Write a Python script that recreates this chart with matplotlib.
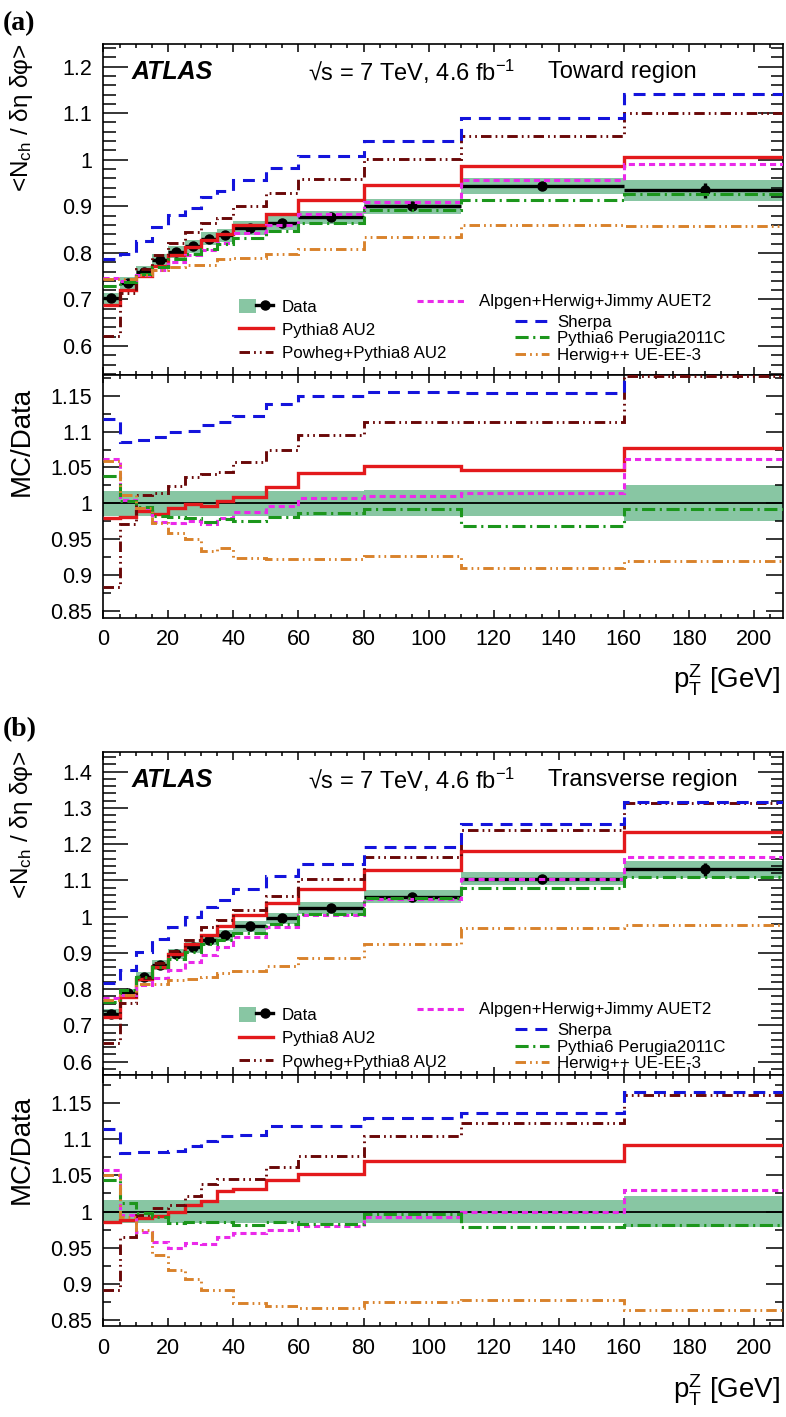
import numpy as np
import matplotlib
matplotlib.use("Agg")
import matplotlib.pyplot as plt
from matplotlib.lines import Line2D
from matplotlib.patches import Patch
from matplotlib.legend_handler import HandlerTuple
from matplotlib.ticker import MultipleLocator, FuncFormatter

plt.rcParams['font.family'] = ['Liberation Sans', 'DejaVu Sans']
plt.rcParams['mathtext.fontset'] = 'custom'
plt.rcParams['mathtext.rm'] = 'Liberation Sans'
plt.rcParams['mathtext.it'] = 'Liberation Sans:italic'
plt.rcParams['mathtext.bf'] = 'Liberation Sans:bold'

# ---------------- data ----------------
bin_edges = [0, 5, 10, 15, 20, 25, 30, 35, 40, 50, 60, 80, 110, 160, 210]
x_ticks = [0, 20, 40, 60, 80, 100, 120, 140, 160, 180, 200]

mc_names = ['Pythia8 AU2', 'Powheg+Pythia8 AU2', 'Alpgen+Herwig+Jimmy AUET2',
            'Sherpa', 'Pythia6 Perugia2011C', 'Herwig++ UE-EE-3']

# Toward region
data_toward = [0.703, 0.735, 0.758, 0.784, 0.802, 0.814, 0.830, 0.838,
               0.853, 0.864, 0.876, 0.900, 0.944, 0.934]
stat_toward = [0.004, 0.003, 0.003, 0.003, 0.003, 0.003, 0.003, 0.003,
               0.003, 0.003, 0.003, 0.004, 0.006, 0.017]
syst_toward = [0.017, 0.017, 0.017, 0.017, 0.017, 0.017, 0.017, 0.017,
               0.017, 0.017, 0.017, 0.018, 0.018, 0.025]
ratio_toward_pythia8 = [0.980, 0.981, 0.989, 0.985, 0.993, 0.999, 0.996, 1.003,
                        1.009, 1.023, 1.043, 1.052, 1.046, 1.077]
ratio_toward_powheg = [0.884, 0.971, 1.011, 1.014, 1.024, 1.037, 1.041, 1.044,
                       1.057, 1.074, 1.095, 1.113, 1.114, 1.177]
ratio_toward_alpgen = [1.062, 1.005, 0.994, 0.974, 0.973, 0.976, 0.971, 0.980,
                       0.988, 0.996, 1.008, 1.010, 1.014, 1.062]
ratio_toward_sherpa = [1.118, 1.085, 1.089, 1.092, 1.099, 1.101, 1.109, 1.114,
                       1.122, 1.138, 1.150, 1.155, 1.154, 1.221]
ratio_toward_pythia6 = [1.038, 1.004, 0.995, 0.983, 0.981, 0.980, 0.974, 0.978,
                        0.976, 0.981, 0.986, 0.992, 0.968, 0.992]
ratio_toward_herwig = [1.059, 1.011, 0.994, 0.973, 0.959, 0.951, 0.933, 0.938,
                       0.924, 0.923, 0.923, 0.927, 0.910, 0.919]

# Transverse region
data_trans = [0.732, 0.788, 0.834, 0.867, 0.897, 0.915, 0.936, 0.948,
              0.973, 0.995, 1.024, 1.055, 1.104, 1.130]
stat_trans = [0.004, 0.003, 0.003, 0.003, 0.003, 0.003, 0.003, 0.003,
              0.003, 0.003, 0.003, 0.004, 0.006, 0.017]
syst_trans = [0.016, 0.016, 0.016, 0.016, 0.016, 0.016, 0.016, 0.016,
              0.016, 0.016, 0.016, 0.016, 0.016, 0.021]
ratio_trans_pythia8 = [0.986, 0.988, 0.991, 0.994, 1.000, 1.009, 1.014, 1.028,
                       1.031, 1.043, 1.052, 1.070, 1.070, 1.092]
ratio_trans_powheg = [0.891, 0.965, 0.995, 1.005, 1.009, 1.022, 1.038, 1.045,
                      1.045, 1.062, 1.077, 1.104, 1.123, 1.161]
ratio_trans_alpgen = [1.058, 0.995, 0.971, 0.958, 0.950, 0.956, 0.955, 0.965,
                      0.970, 0.975, 0.980, 0.993, 1.000, 1.030]
ratio_trans_sherpa = [1.114, 1.081, 1.082, 1.082, 1.084, 1.090, 1.097, 1.104,
                      1.106, 1.118, 1.118, 1.130, 1.137, 1.165]
ratio_trans_pythia6 = [1.044, 1.012, 0.998, 0.993, 0.984, 0.985, 0.986, 0.986,
                       0.982, 0.985, 0.983, 0.997, 0.978, 0.982]
ratio_trans_herwig = [1.051, 0.993, 0.975, 0.940, 0.919, 0.906, 0.891, 0.891,
                      0.873, 0.869, 0.866, 0.875, 0.878, 0.864]

# ---------------- styles ----------------
mc_colors = ['#e3191c', '#6a0808', '#ea2aea', '#1414dc', '#1c961c', '#d9822b']
mc_styles = ['-', (0, (3.6, 1.4, 0.6, 1.4, 0.6, 1.4)), (0, (2.0, 1.3)),
             (0, (3.9, 2.6)), (0, (4.3, 1.5, 0.7, 1.5)),
             (0, (3.6, 1.4, 0.6, 1.4, 0.6, 1.4))]
mc_widths = [2.4, 2.1, 2.2, 2.2, 2.2, 2.1]
band_color = '#88c6a3'

fig = plt.figure(figsize=(7.86, 14.17), dpi=100)

fmt = FuncFormatter(lambda v, p: '%g' % round(v, 3))


def style_axis(ax, ymaj, ymin, ylen_major, ylen_minor):
    ax.set_xlim(0, 209)
    ax.xaxis.set_major_locator(MultipleLocator(20))
    ax.xaxis.set_minor_locator(MultipleLocator(5))
    ax.yaxis.set_major_locator(MultipleLocator(ymaj))
    ax.yaxis.set_minor_locator(MultipleLocator(ymin))
    ax.yaxis.set_major_formatter(fmt)
    ax.tick_params(which='both', direction='in', top=True, right=True,
                   labelsize=15.5, width=1.1)
    ax.tick_params(axis='x', which='major', length=6, pad=8)
    ax.tick_params(axis='x', which='minor', length=3)
    ax.tick_params(axis='y', which='major', length=ylen_major, pad=8)
    ax.tick_params(axis='y', which='minor', length=ylen_minor)
    for s in ax.spines.values():
        s.set_linewidth(1.2)


def draw_panel(rect_main, rect_ratio, data, stat, syst, ratios, ylim_main,
               ylim_ratio, region, plabel, plabel_y, ylab_y, rlab_y,
               xlab_y, txt_y, leg_pos):
    edges = np.array(bin_edges, dtype=float)
    centers = 0.5 * (edges[1:] + edges[:-1])
    halfw = 0.5 * (edges[1:] - edges[:-1])
    data = np.array(data)
    syst = np.array(syst)

    ax = fig.add_axes(rect_main)
    axr = fig.add_axes(rect_ratio, sharex=ax)

    # main panel
    ax.bar(centers, 2 * syst * data, bottom=data * (1 - syst), width=2 * halfw,
           color=band_color, linewidth=0, zorder=1)
    ax.errorbar(centers, data, xerr=halfw, yerr=stat, fmt='o', color='k',
                ms=6.5, lw=2.4, capsize=0, zorder=2)
    handles = []
    for r, c, ls, lw in zip(ratios, mc_colors, mc_styles, mc_widths):
        vals = np.array(r) * data
        ax.stairs(vals, edges, baseline=None, color=c, linestyle=ls,
                  linewidth=lw, zorder=3)
        handles.append(Line2D([], [], color=c, linestyle=ls, linewidth=lw))
    ax.set_ylim(*ylim_main)
    style_axis(ax, 0.1, 0.02, 18, 9)
    ax.tick_params(axis='x', labelbottom=False)

    # ratio panel
    axr.bar(centers, 2 * syst, bottom=1 - syst, width=2 * halfw,
            color=band_color, linewidth=0, zorder=1)
    axr.axhline(1.0, color='k', lw=1.3, zorder=2)
    for r, c, ls, lw in zip(ratios, mc_colors, mc_styles, mc_widths):
        axr.stairs(r, edges, baseline=None, color=c, linestyle=ls,
                   linewidth=lw, zorder=3)
    axr.set_ylim(*ylim_ratio)
    style_axis(axr, 0.05, 0.025, 12, 6)
    axr.set_xticks(x_ticks)

    # texts
    ax.text(0.042, txt_y, 'ATLAS', transform=ax.transAxes, fontsize=18,
            fontweight='bold', fontstyle='italic', va='center', ha='left')
    ax.text(0.3015, txt_y, '\u221As = 7 TeV, 4.6 fb$^{-1}$',
            transform=ax.transAxes, fontsize=17, va='center', ha='left')
    ax.text(0.654, txt_y, region, transform=ax.transAxes, fontsize=17,
            va='center', ha='left')
    ax.text(-0.12, ylab_y, '<N$_{\\mathrm{ch}}$ / \u03b4\u03b7 \u03b4\u03c6>',
            transform=ax.transAxes, rotation=90, fontsize=17.5, ha='center',
            va='top')
    axr.text(-0.12, rlab_y, 'MC/Data', transform=axr.transAxes, rotation=90,
             fontsize=20, ha='center', va='top')
    axr.text(0.995, xlab_y, 'p$_{\\mathrm{T}}^{\\mathrm{Z}}$ [GeV]',
             transform=axr.transAxes, fontsize=20, ha='right', va='center')
    fig.text(0.004, plabel_y, plabel, fontfamily='Liberation Serif',
             fontweight='bold', fontsize=20, ha='left', va='center')

    # legends
    data_handle = (Patch(facecolor=band_color, edgecolor='none'),
                   Line2D([], [], color='k', lw=2.4, marker='o', ms=6.5))
    (l1x, l1y), (l2x, l2y), (l3x, l3y) = leg_pos
    leg1 = ax.legend([data_handle, handles[0], handles[1]],
                     ['Data', mc_names[0], mc_names[1]],
                     handler_map={tuple: HandlerTuple(ndivide=None, pad=0)},
                     loc='center left', bbox_to_anchor=(l1x, l1y),
                     frameon=False, fontsize=12.2, handlelength=2.0,
                     handleheight=0.95, handletextpad=0.5, labelspacing=0.42,
                     borderpad=0, borderaxespad=0)
    ax.add_artist(leg1)
    leg2 = ax.legend([handles[2]], [mc_names[2]], loc='center left',
                     bbox_to_anchor=(l2x, l2y), frameon=False, fontsize=12.2,
                     handlelength=2.8, handletextpad=0.85, borderpad=0,
                     borderaxespad=0)
    ax.add_artist(leg2)
    ax.legend(handles[3:], mc_names[3:], loc='center left',
              bbox_to_anchor=(l3x, l3y), frameon=False, fontsize=12.2,
              handlelength=2.0, handletextpad=0.5, labelspacing=0.08,
              borderpad=0, borderaxespad=0)


ratios_toward = [ratio_toward_pythia8, ratio_toward_powheg, ratio_toward_alpgen,
                 ratio_toward_sherpa, ratio_toward_pythia6, ratio_toward_herwig]
ratios_trans = [ratio_trans_pythia8, ratio_trans_powheg, ratio_trans_alpgen,
                ratio_trans_sherpa, ratio_trans_pythia6, ratio_trans_herwig]

draw_panel([0.1314, 0.7354, 0.8651, 0.2334], [0.1314, 0.5641, 0.8651, 0.1713],
           data_toward, stat_toward, syst_toward, ratios_toward,
           (0.538, 1.248), (0.8407, 1.179), 'Toward region', '(a)',
           1 - 24 / 1417, 1.004, 0.952, -0.257, 0.917,
           [(0.2, 0.136), (0.461, 0.2207), (0.6054, 0.109)])

draw_panel([0.1314, 0.2414, 0.8651, 0.2282], [0.1314, 0.0639, 0.8651, 0.1775],
           data_trans, stat_trans, syst_trans, ratios_trans,
           (0.563, 1.455), (0.841, 1.189), 'Transverse region', '(b)',
           1 - 730 / 1417, 1.005, 0.920, -0.2525, 0.912,
           [(0.2, 0.1135), (0.461, 0.201), (0.6054, 0.0857)])

fig.savefig('out.png', dpi=100)
